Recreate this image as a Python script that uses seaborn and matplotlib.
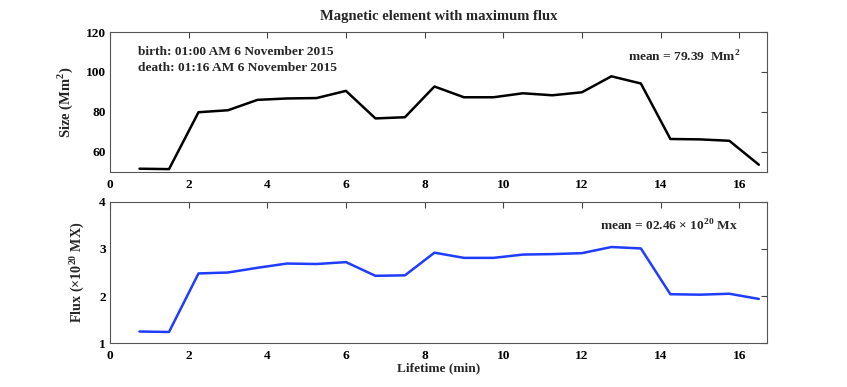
import numpy as np
import pandas as pd
import matplotlib
matplotlib.use("Agg")
import matplotlib.pyplot as plt
import seaborn as sns

lifetime = [0.75, 1.5, 2.25, 3.0, 3.75, 4.5, 5.25, 6.0, 6.75, 7.5, 8.25,
            9.0, 9.75, 10.5, 11.25, 12.0, 12.75, 13.5, 14.25, 15.0, 15.75, 16.5]
size = [51.5, 51.3, 79.8, 80.8, 86.0, 86.7, 86.9, 90.5, 76.7, 77.3, 92.7,
        87.3, 87.3, 89.3, 88.3, 89.8, 97.8, 94.2, 66.4, 66.2, 65.5, 53.5]
flux = [1.25, 1.24, 2.48, 2.50, 2.60, 2.69, 2.68, 2.72, 2.43, 2.44, 2.92,
        2.81, 2.81, 2.88, 2.89, 2.91, 3.04, 3.01, 2.04, 2.03, 2.05, 1.94]

size_ticks = [60, 80, 100, 120]
flux_ticks = [1, 2, 3, 4]
x_ticks = [0, 2, 4, 6, 8, 10, 12, 14, 16]

df = pd.DataFrame({"Lifetime": lifetime, "Size": size, "Flux": flux})

sns.set_style("white")
plt.rcParams['font.family'] = ['Liberation Serif', 'DejaVu Serif']
plt.rcParams['font.weight'] = 'bold'
plt.rcParams['mathtext.fontset'] = 'custom'
plt.rcParams['mathtext.rm'] = 'Liberation Serif:bold'
plt.rcParams['mathtext.bf'] = 'Liberation Serif:bold'

FS = 9.6

fig = plt.figure(figsize=(8.47, 3.87), dpi=100)
ax1 = fig.add_axes([0.1299, 0.5563, 0.7753, 0.3610])
ax2 = fig.add_axes([0.1299, 0.1129, 0.7753, 0.3659])

sns.lineplot(data=df, x="Lifetime", y="Size", ax=ax1, color="black", lw=1.8)
sns.lineplot(data=df, x="Lifetime", y="Flux", ax=ax2, color="#1f3cff", lw=1.8)

for ax in (ax1, ax2):
    ax.set_xlim(0, 16.7)
    ax.set_xticks(x_ticks)
    ax.tick_params(direction="in", length=4, width=0.8, top=True, right=True,
                   labelsize=FS, colors="#444444", labelcolor="black")
    ax.tick_params(axis="x", pad=5)
    ax.tick_params(axis="y", pad=3)
    for lab in ax.get_xticklabels() + ax.get_yticklabels():
        lab.set_fontweight("bold")
    for s in ax.spines.values():
        s.set_color("#555555")
        s.set_linewidth(0.8)
        s.set_visible(True)

ax1.set_ylim(50, 120)
ax1.set_yticks(size_ticks)
ax1.set_xlabel("")
ax1.set_ylabel(r"Size (Mm$^{2}$)", fontsize=10.5, fontweight="bold")
ax1.yaxis.set_label_coords(-0.053, 0.5)
ax1.set_title("Magnetic element with maximum flux", fontsize=10.5, fontweight="bold", pad=9)
ax1.text(0.71, 110, "birth: 01:00 AM 6 November 2015", fontsize=FS, fontweight="bold", va="center")
ax1.text(0.71, 102, "death: 01:16 AM 6 November 2015", fontsize=FS, fontweight="bold", va="center")
ax1.text(13.18, 107.5, r"mean = 79.39  Mm$^{2}$", fontsize=FS, fontweight="bold", va="center")

ax2.set_ylim(1, 4)
ax2.set_yticks(flux_ticks)
ax2.set_xlabel("Lifetime (min)", fontsize=FS, fontweight="bold", labelpad=0)
ax2.set_ylabel(r"Flux ($\times$10$^{20}$ MX)", fontsize=10.2, fontweight="bold")
ax2.yaxis.set_label_coords(-0.037, 0.5)
ax2.text(12.47, 3.49, r"mean = 02.46 $\times$ 10$^{20}$ Mx", fontsize=FS, fontweight="bold", va="center")

fig.savefig("out.png", dpi=100)
